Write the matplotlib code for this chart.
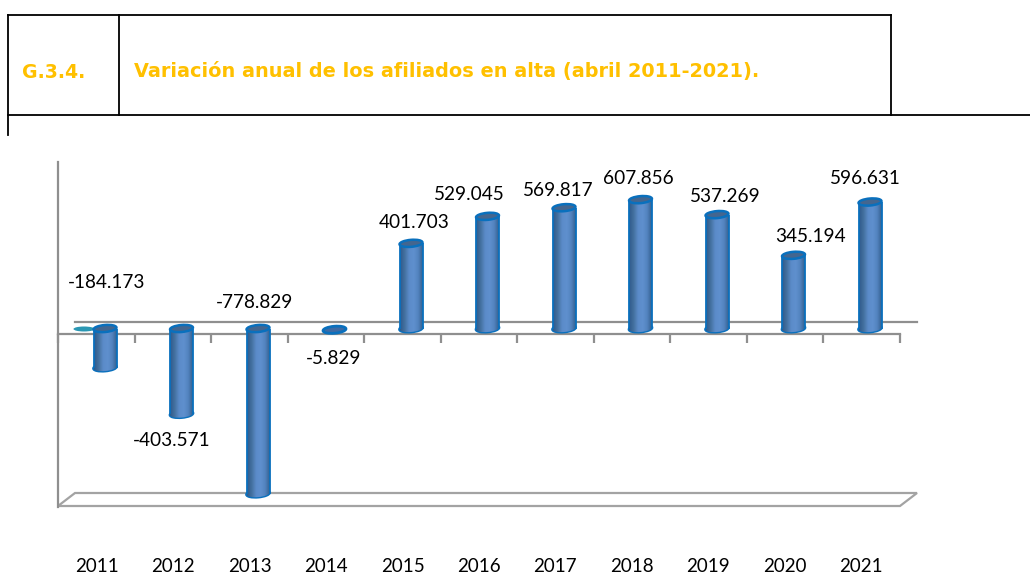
"""Variacion anual de los afiliados en alta, cylinders on a fake 3d frame."""
import matplotlib
matplotlib.use('Agg')
from matplotlib import pyplot as plt
from matplotlib.lines import Line2D
from matplotlib.patches import Ellipse, Polygon
from matplotlib.transforms import Affine2D
from matplotlib.colors import LinearSegmentedColormap
import numpy as np

years = ['2011', '2012', '2013', '2014', '2015', '2016', '2017', '2018', '2019', '2020', '2021']
values = [-184173, -403571, -778829, -5829, 401703, 529045, 569817, 607856, 537269, 345194, 596631]
heading_code = 'G.3.4.'
heading = 'Variación anual de los afiliados en alta (abril 2011-2021).'

W, H = 1030, 574
pxPerUnit = 0.000212
zeroY = 328.5
firstX, stepX = 105, 76.5
barW = 23
edgeBlue = '#0a70bd'
lineGray = '#8f8f8f'
labelFont = 'Lato'

# label centres, pixels
labelX = [107, 172, 255, 334, 414, 469, 558, 638, 725, 810, 865]
labelY = [282, 441, 303, 359, 223, 195, 191, 178, 196, 236, 178]

cylCmap = LinearSegmentedColormap.from_list(
    'cyl', ['#2f5a8c', '#44719f', '#5b8bc9', '#5f90ce', '#5383bf', '#33608f'])


def px(x, y):
    """figure fraction from pixel position, y down"""
    return x / W, 1 - y / H


fig = plt.figure(figsize=(W / 100, H / 100), dpi=100)

# table frame round the heading
for x0, y0, x1, y1 in [(8, 15, 891, 15), (8, 115, 1030, 115), (8, 15, 8, 135),
                       (118.5, 15, 118.5, 115), (891, 15, 891, 115)]:
    fig.add_artist(Line2D([x0 / W, x1 / W], [1 - y0 / H, 1 - y1 / H], color='black', lw=1.3))
fig.text(*px(22, 72), heading_code, color='#ffc000', fontsize=13.6, fontweight='bold',
         family='DejaVu Sans', va='center', ha='left')
fig.text(*px(134, 72), heading, color='#ffc000', fontsize=13.9, fontweight='bold',
         family='DejaVu Sans', va='center', ha='left')

# frame in pixel coordinates
frame = fig.add_axes([0, 0, 1, 1])
frame.set_xlim(0, W)
frame.set_ylim(H, 0)
frame.axis('off')
frame.plot([58, 58], [162, 507], color=lineGray, lw=1.6)
frame.plot([75, 917], [322, 322], color=lineGray, lw=1.6)
frame.plot([58, 900], [334, 334], color=lineGray, lw=1.6)
frame.vlines(58 + stepX * np.arange(12), 334, 343, color=lineGray, lw=1.6)
frame.add_patch(Polygon([(58, 506), (900, 506), (917, 493), (75, 493)], closed=True,
                        fc='white', ec='#a3a3a3', lw=1.6))
# small second series next to the first bar
frame.add_patch(Ellipse((84, 329), 21, 5, fc='#2a97b3', ec='none'))
for year, i in zip(years, range(len(years))):
    frame.text(97 + 76.4 * i, 567, year, ha='center', va='center', fontsize=13.5,
               family=labelFont, color='black')

# data axes, limits picked so the values land on the right pixels
ax = fig.add_axes([0, 0, 1, 1])
ax.patch.set_alpha(0)
ax.set_xlim(-firstX / stepX, (W - firstX) / stepX)
ax.set_ylim((zeroY - H) / pxPerUnit, zeroY / pxPerUnit)
ax.axis('off')

grad = np.linspace(0, 1, 64).reshape(1, -1)
halfW = barW / stepX / 2


def endCap(i, v, **kw):
    """tilted ellipse closing a cylinder, drawn in display space"""
    cx, cy = ax.transData.transform((i, v))
    tr = Affine2D().rotate_deg(5).translate(cx, cy)
    e = Ellipse((0, 0), barW, 7, transform=tr, **kw)
    ax.add_artist(e)
    return e


for i, v in enumerate(values):
    if abs(v) < 20000:
        # too short to be a cylinder, only the cap shows
        endCap(i, v, fc='#3f6aa3', ec=edgeBlue, lw=2, zorder=4)
        continue
    lowEnd = min(v, 0)
    highEnd = max(v, 0)
    cap = endCap(i, lowEnd, fc='#5587c6', ec=edgeBlue, lw=2, zorder=2)
    im = ax.imshow(grad, cmap=cylCmap, aspect='auto', zorder=2.1,
                   extent=(i - halfW, i + halfW, lowEnd - 30000, lowEnd + 30000))
    im.set_clip_path(cap)
    rect = ax.bar(i, highEnd - lowEnd, bottom=lowEnd, width=2 * halfW, color='none', zorder=3)[0]
    im2 = ax.imshow(grad, cmap=cylCmap, aspect='auto', zorder=3,
                    extent=(i - halfW, i + halfW, lowEnd, highEnd))
    im2.set_clip_path(rect)
    ax.vlines([i - halfW, i + halfW], lowEnd, highEnd, color=edgeBlue, lw=1.3, zorder=3.5)
    endCap(i, highEnd, fc='#44668f', ec=edgeBlue, lw=1.8, zorder=4)
ax.set_xlim(-firstX / stepX, (W - firstX) / stepX)
ax.set_ylim((zeroY - H) / pxPerUnit, zeroY / pxPerUnit)

for v, lx, ly in zip(values, labelX, labelY):
    text = f'{v:,}'.replace(',', '.')
    fig.text(*px(lx, ly), text, ha='center', va='center', fontsize=13.7, family=labelFont,
             color='black', zorder=10)

plt.savefig('out.png', dpi=100)
plt.close()
